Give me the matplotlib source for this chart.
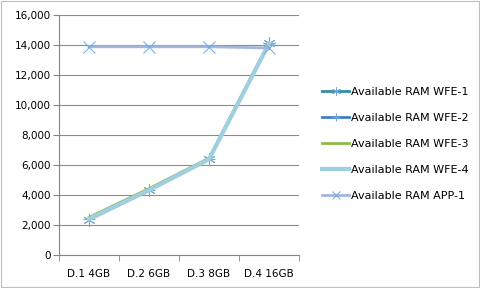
import matplotlib.pyplot as plt
from matplotlib.patches import Rectangle

categories = ["D.1 4GB", "D.2 6GB", "D.3 8GB", "D.4 16GB"]
wfe1 = [2350, 4300, 6400, 14100]
wfe2 = [2400, 4350, 6400, 14100]
wfe3 = [2500, 4420, 6450, 14150]
wfe4 = [2400, 4320, 6380, 14100]
app1 = [13880, 13880, 13880, 13800]

# name, values, colour, marker, line width
series = [
    ("Available RAM WFE-1", wfe1, "#2f8fa0", (6, 2, 0), 2.0),
    ("Available RAM WFE-2", wfe2, "#3f7fc4", "+", 2.0),
    ("Available RAM WFE-3", wfe3, "#8dbb4a", None, 2.0),
    ("Available RAM WFE-4", wfe4, "#9fcfe0", None, 3.0),
    ("Available RAM APP-1", app1, "#a3b6dc", "x", 2.0),
]

fig = plt.figure(figsize=(4.8, 2.88), dpi=100)
fig.patches.append(Rectangle((0.002, 0.003), 0.996, 0.994, transform=fig.transFigure,
                             fill=False, edgecolor="#bfbfbf", linewidth=0.8))
ax = fig.add_axes([0.123, 0.115, 0.5, 0.833])

x = list(range(len(categories)))
handles = []
for name, vals, color, marker, lw in series:
    h, = ax.plot(x, vals, color=color, linewidth=lw, marker=marker,
                 markersize=9, markeredgewidth=0.7, markeredgecolor="#6fa8dc",
                 label=name, zorder=3)
    handles.append(h)

ax.set_xlim(-0.5, 3.5)
ax.set_ylim(0, 16000)
ax.set_yticks(range(0, 16001, 2000))
ax.set_yticklabels([f"{v:,}" for v in range(0, 16001, 2000)], fontsize=7.5)
ax.set_xticks(x)
ax.set_xticklabels(categories, fontsize=7.5)
ax.tick_params(axis="x", length=0, pad=10)
ax.set_xticks([-0.5, 0.5, 1.5, 2.5, 3.5], minor=True)
ax.tick_params(axis="x", which="minor", length=4, color="#868686")
ax.tick_params(axis="y", length=4, color="#868686", pad=2)
ax.grid(axis="y", color="#8c8c8c", linewidth=0.8)
ax.set_axisbelow(True)
for side in ["top", "right"]:
    ax.spines[side].set_visible(False)
for side in ["left", "bottom"]:
    ax.spines[side].set_color("#868686")

fig.legend(handles=handles, loc="center left", bbox_to_anchor=(0.662, 0.5),
           frameon=False, fontsize=8, handlelength=2.4, handletextpad=0.15,
           labelspacing=1.45, borderaxespad=0, markerscale=0.7)

fig.savefig("out.png", dpi=100)
